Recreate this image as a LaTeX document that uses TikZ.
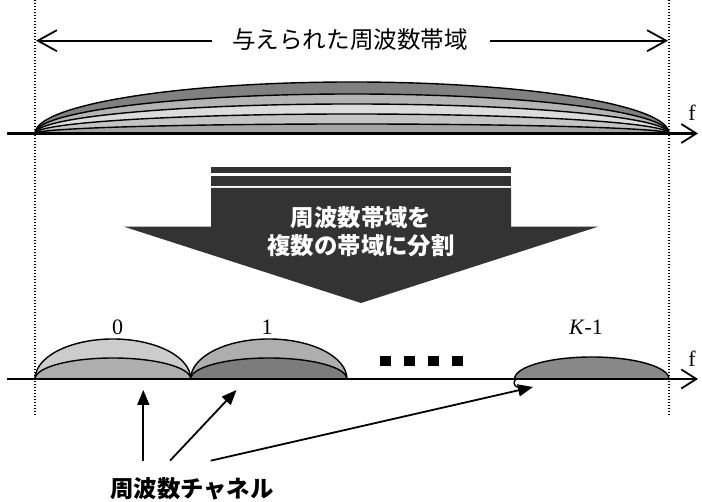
\documentclass[tikz,border=0pt]{standalone}
\usepackage{fontspec}
\setmainfont{Liberation Serif}
\newfontfamily\jp{Noto Sans CJK JP}
\usetikzlibrary{arrows.meta}
\definecolor{gA}{HTML}{808080}
\definecolor{gB}{HTML}{B4B4B4}
\definecolor{gC}{HTML}{DCDCDC}
\definecolor{gD}{HTML}{C4C4C4}
\definecolor{gE}{HTML}{A4A4A4}
\definecolor{czo}{HTML}{CCCCCC}
\definecolor{czi}{HTML}{AEAEAE}
\definecolor{coo}{HTML}{AEAEAE}
\definecolor{coi}{HTML}{7C7C7C}
\definecolor{ck}{HTML}{888888}
\definecolor{bigarrow}{HTML}{333333}
\begin{document}
\begin{tikzpicture}[x=1pt,y=1pt,
  guide/.style={line width=1.1pt, dash pattern=on 1.1pt off 1.9pt},
  axisline/.style={line width=2.2pt, -{Straight Barb[length=15pt,width=19pt,line width=1.8pt]}},
  lens/.style={draw=black, line width=1.4pt},
  bandarrow/.style={line width=1.8pt, -{Straight Barb[length=19pt,width=21pt,line width=1.8pt]}},
  callout/.style={line width=1.8pt, -{Triangle[length=15pt,width=12pt]}},
  num/.style={font=\fontsize{22}{22}\selectfont, inner sep=0pt},
  jptext/.style={font=\jp\fontsize{23.6}{28}\selectfont, inner sep=0pt},
  jpbold/.style={font=\jp\bfseries\fontsize{23.4}{28}\selectfont, inner sep=0pt}]
\useasboundingbox (0,0) rectangle (702,502);

% guide lines
\coordinate (gl1) at (35,502);
\coordinate (gl2) at (35,87);
\coordinate (gr1) at (669,502);
\coordinate (gr2) at (669,87);
\draw[guide] (gl1) -- (gl2);
\draw[guide] (gr1) -- (gr2);

% given band arrow
\node[jptext] (band) at (350,462.5) {与えられた周波数帯域};
\coordinate (bandL) at (36,461.3);
\coordinate (bandR) at (668,461.3);
\draw[bandarrow] ([xshift=-20pt,yshift=-1.2pt]band.west) -- (bandL);
\draw[bandarrow] ([xshift=22pt,yshift=-1.2pt]band.east) -- (bandR);

% top spectrum
\foreach \r/\c in {51.5/gA,39.5/gB,29.5/gC,19.5/gD,9.5/gE}
  \filldraw[lens, fill=\c] (35,368.5) arc[start angle=180,end angle=0,x radius=317,y radius=\r] -- cycle;
\coordinate (ax1s) at (7,368.5);
\coordinate (ax1e) at (698,368.5);
\draw[axisline] (ax1s) -- (ax1e);
\node[num] (f1) at (692,389.5) {f};

% big arrow
\fill[bigarrow] (211,328.7) rectangle (511,334.7);
\fill[bigarrow] (211,316.3) rectangle (511,326.3);
\fill[bigarrow] (211,314) -- (511,314) -- (511,275.3) -- (598,275.3) -- (361,199) -- (124,275.3) -- (211,275.3) -- cycle;
\node[jpbold, text=white, align=center] (split) at (361,270.4) {周波数帯域を\\複数の帯域に分割};

% bottom spectrum
\filldraw[lens, fill=czo] (35,123) arc[start angle=180,end angle=0,x radius=77.85,y radius=40] -- cycle;
\filldraw[lens, fill=czi] (35,123) arc[start angle=180,end angle=0,x radius=77.85,y radius=21] -- cycle;
\filldraw[lens, fill=coo] (190.7,123) arc[start angle=180,end angle=0,x radius=78.1,y radius=40] -- cycle;
\filldraw[lens, fill=coi] (190.7,123) arc[start angle=180,end angle=0,x radius=78.1,y radius=21] -- cycle;
\filldraw[lens, fill=ck] (514.6,123) arc[start angle=180,end angle=0,x radius=77.2,y radius=22] -- cycle;
\draw[line width=1.4pt] (516,123) .. controls (513,120) and (513.5,116.5) .. (518,114.5);
\coordinate (ax2s) at (7,123);
\coordinate (ax2e) at (698,123);
\draw[axisline] (ax2s) -- (ax2e);
\node[num] (f2) at (692,143) {f};

\node[num] (l0) at (117.5,175) {0};
\node[num] (l1) at (267,175) {1};
\node[num] (lk) at (586,175) {\textit{K}-1};

\foreach \x in {380,404,428,452}
  \fill (\x,136) rectangle +(10.5,10);

% channel callouts
\node[jpbold] (chan) at (192,13) {周波数チャネル};
\coordinate (s1) at (143.3,41.3);
\coordinate (t1) at (143.3,112);
\coordinate (s2) at (170,41.3);
\coordinate (t2) at (236.5,112);
\coordinate (s3) at (210.7,41.3);
\coordinate (t3) at (533,115);
\draw[callout] (s1) -- (t1);
\draw[callout] (s2) -- (t2);
\draw[callout] (s3) -- (t3);
\end{tikzpicture}
\end{document}
